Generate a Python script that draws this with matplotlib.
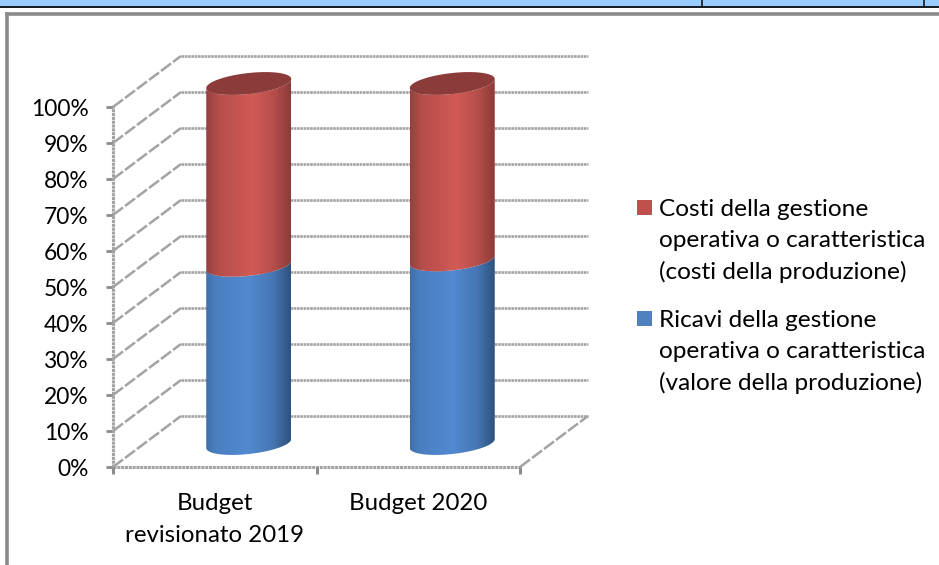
import numpy as np
import matplotlib
matplotlib.use('Agg')
import matplotlib.pyplot as plt
from matplotlib.colors import LinearSegmentedColormap
from matplotlib.lines import Line2D
from matplotlib.patches import Polygon, Rectangle

categories = ['Budget\nrevisionato 2019', 'Budget 2020']
ricavi = [49.5, 51.0]
costi = [50.5, 49.0]
y_ticks = [0, 10, 20, 30, 40, 50, 60, 70, 80, 90, 100]
legend_labels = ['Costi della gestione\noperativa o caratteristica\n(costi della produzione)',
                 'Ricavi della gestione\noperativa o caratteristica\n(valore della produzione)']

W, H = 939, 565
plt.rcParams['font.family'] = ['Lato', 'DejaVu Sans']

fig = plt.figure(figsize=(W / 100, H / 100), dpi=100, facecolor='white')


def fx(px):
    return px / W


def fy(py):
    return 1 - py / H


# plot area is the front plane of the 3D box
ax = fig.add_axes([fx(113), fy(467), fx(520) - fx(113), (467 - 107) / H])
ax.set_xlim(0, 2)
ax.set_ylim(0, 100)
ax.axis('off')

# pixels per data unit, depth offset of the back wall
sx = 407 / 2
sy = 360 / 100
depth_x = 68 / sx
depth_y = 51 / sy

grid_color = '#a3a3a3'
dotted = (0, (1.0, 0.25))
dashed = (0, (5, 1.0))

# back wall and left wall
for v in y_ticks:
    ax.plot([depth_x, 2 + depth_x], [v + depth_y, v + depth_y], color=grid_color, lw=1.9,
            ls=dotted, clip_on=False, zorder=1)
    ax.plot([0, depth_x], [v, v + depth_y], color=grid_color, lw=1.8, ls=dashed,
            clip_on=False, zorder=1)
    ax.plot([-7 / sx, 0], [v, v], color='#8c8c8c', lw=2, clip_on=False, zorder=2,
            solid_capstyle='butt')

# floor and axes
ax.plot([2, 2 + depth_x], [0, depth_y], color=grid_color, lw=1.8, ls=dashed, clip_on=False, zorder=1)
ax.plot([0, 2], [0, 0], color=grid_color, lw=2.2, ls=dotted, clip_on=False, zorder=2)
ax.plot([0, 0], [0, 100], color=grid_color, lw=2.2, ls=dotted, clip_on=False, zorder=2)
for x in [0, 1, 2]:
    ax.plot([x, x], [0, -7 / sy], color='#8c8c8c', lw=2.2, clip_on=False, zorder=2,
            solid_capstyle='butt')

blue_cmap = LinearSegmentedColormap.from_list('blue', [(0, '#3f70ab'), (0.12, '#4a7fc0'), (0.5, '#5289d0'),
                                                       (0.78, '#4777b4'), (1, '#2e527e')])
red_cmap = LinearSegmentedColormap.from_list('red', [(0, '#95403e'), (0.14, '#b54e4b'), (0.55, '#d25a56'),
                                                     (0.8, '#b54e4b'), (1, '#8c3b39')])

half_w = 42.5 / sx
rad = 10.5 / sy
shear = 4.5 / sy
t_low = np.linspace(np.pi, 2 * np.pi, 60)
t_full = np.linspace(0, 2 * np.pi, 120)


def ellipse_points(cx, cy, t):
    # sin(t) < 0 is the near side of the disc
    return np.column_stack([cx + half_w * np.cos(t), cy + rad * np.sin(t) + shear * np.cos(t)])


def draw_segment(cx, y0, y1, cmap, z):
    bottom = ellipse_points(cx, y0, t_low)
    top = ellipse_points(cx, y1, t_low)[::-1]
    body = Polygon(np.vstack([bottom, top]), closed=True, fc='none', ec='none',
                   transform=ax.transData, clip_on=False)
    ax.add_patch(body)
    grad = np.linspace(0, 1, 256).reshape(1, -1)
    im = ax.imshow(grad, cmap=cmap, vmin=0, vmax=1, aspect='auto', zorder=z,
                   extent=[cx - half_w, cx + half_w, y0 - rad - shear, y1 + rad + shear])
    # image may go above the front plane, so clip to the figure and not the axes
    im.set_clip_box(fig.bbox)
    im.set_clip_path(body)


# cylinders stand about half way along the depth of the box
for i, (low, high) in enumerate(zip(ricavi, costi)):
    cx = i + 0.5 + depth_x / 2
    base = 23.5 / sy
    draw_segment(cx, base, base + low, blue_cmap, 3)
    draw_segment(cx, base + low, base + low + high, red_cmap, 4)
    ax.add_patch(Polygon(ellipse_points(cx, base + low + high, t_full), closed=True, fc='#8b3b39',
                         ec='none', zorder=5, clip_on=False))
ax.set_xlim(0, 2)
ax.set_ylim(0, 100)

# tick labels
for v in y_ticks:
    ax.text(-24.5 / sx, v - 3 / sy, f'{v}%', ha='right', va='center', fontsize=16.4, color='black', clip_on=False)
for i, c in enumerate(categories):
    ax.text(i + 0.5, -26 / sy, c, ha='center', va='top', fontsize=17.3, linespacing=1.62,
            color='black', clip_on=False)

# legend
legend_colors = ['#c0504d', '#4f81bd']
for label, color, top in zip(legend_labels, legend_colors, [200, 311]):
    fig.add_artist(Rectangle((fx(637), fy(top + 15)), 15 / W, 15 / H, fc=color, ec='none',
                             transform=fig.transFigure))
    fig.text(fx(659), fy(top - 1), label, ha='left', va='top', fontsize=17.6, linespacing=1.58,
             color='black')

# rest of the spreadsheet around the chart
fig.add_artist(Rectangle((0, fy(7)), 1, 7 / H, fc='#99ccff', ec='none', transform=fig.transFigure))
fig.add_artist(Line2D([0, 1], [fy(7), fy(7)], color='#101820', lw=1.4, transform=fig.transFigure))
for px in [701.5, 924]:
    fig.add_artist(Line2D([fx(px), fx(px)], [fy(7), 1], color='#101820', lw=1.2, transform=fig.transFigure))
fig.add_artist(Line2D([fx(7), 1], [fy(14), fy(14)], color='#8a8a8a', lw=2.6, transform=fig.transFigure))
fig.add_artist(Line2D([fx(7), fx(7)], [fy(14), 0], color='#8a8a8a', lw=2.6, transform=fig.transFigure))

fig.savefig('out.png', dpi=100)
